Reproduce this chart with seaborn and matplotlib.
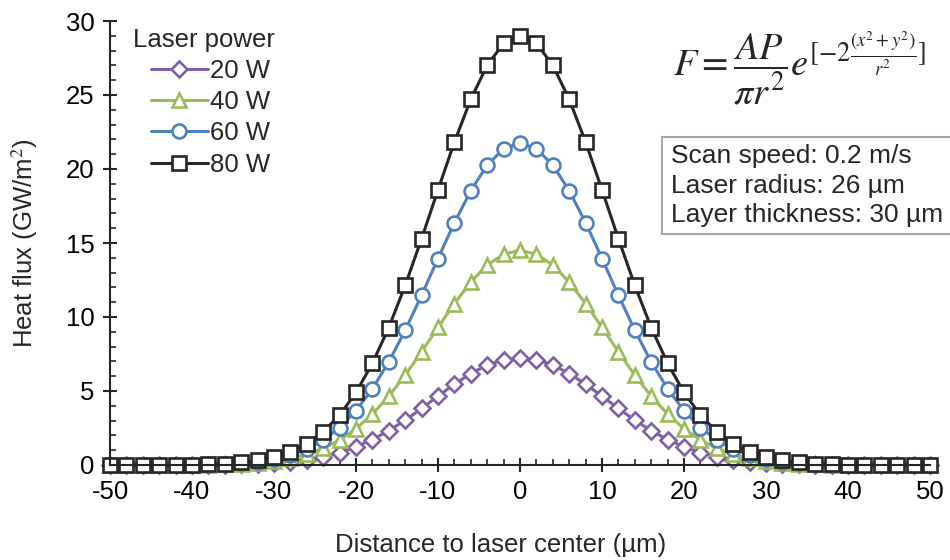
import matplotlib
matplotlib.use('Agg')
import matplotlib.pyplot as plt
import seaborn as sns
from matplotlib.lines import Line2D
from matplotlib.patches import Rectangle

# distance to laser center, um
distance = list(range(-50, 51, 2))

# heat flux, GW/m^2
flux_20w = [0.00, 0.00, 0.00, 0.00, 0.00, 0.00, 0.01, 0.02, 0.04, 0.08, 0.13, 0.22, 0.36,
            0.56, 0.84, 1.23, 1.72, 2.32, 3.03, 3.82, 4.65, 5.46, 6.18, 6.75, 7.12,
            7.25,
            7.12, 6.75, 6.18, 5.46, 4.65, 3.82, 3.03, 2.32, 1.72, 1.23, 0.84, 0.56, 0.36,
            0.22, 0.13, 0.08, 0.04, 0.02, 0.01, 0.00, 0.00, 0.00, 0.00, 0.00, 0.00]
flux_40w = [0.00, 0.00, 0.00, 0.00, 0.00, 0.01, 0.02, 0.05, 0.09, 0.15, 0.27, 0.45, 0.72,
            1.12, 1.69, 2.45, 3.44, 4.65, 6.07, 7.65, 9.30, 10.91, 12.36, 13.51, 14.25,
            14.50,
            14.25, 13.51, 12.36, 10.91, 9.30, 7.65, 6.07, 4.65, 3.44, 2.45, 1.69, 1.12, 0.72,
            0.45, 0.27, 0.15, 0.09, 0.05, 0.02, 0.01, 0.00, 0.00, 0.00, 0.00, 0.00]
flux_60w = [0.00, 0.00, 0.00, 0.00, 0.01, 0.02, 0.03, 0.07, 0.13, 0.23, 0.40, 0.67, 1.08,
            1.68, 2.53, 3.68, 5.15, 6.97, 9.10, 11.47, 13.95, 16.37, 18.53, 20.26, 21.37,
            21.75,
            21.37, 20.26, 18.53, 16.37, 13.95, 11.47, 9.10, 6.97, 5.15, 3.68, 2.53, 1.68, 1.08,
            0.67, 0.40, 0.23, 0.13, 0.07, 0.03, 0.02, 0.01, 0.00, 0.00, 0.00, 0.00]
flux_80w = [0.00, 0.00, 0.00, 0.00, 0.01, 0.02, 0.05, 0.09, 0.17, 0.31, 0.53, 0.89, 1.44,
            2.24, 3.37, 4.90, 6.87, 9.29, 12.14, 15.29, 18.59, 21.82, 24.71, 27.01, 28.49,
            29.00,
            28.49, 27.01, 24.71, 21.82, 18.59, 15.29, 12.14, 9.29, 6.87, 4.90, 3.37, 2.24, 1.44,
            0.89, 0.53, 0.31, 0.17, 0.09, 0.05, 0.02, 0.01, 0.00, 0.00, 0.00, 0.00]

labels = ['20 W', '40 W', '60 W', '80 W']
series = [flux_20w, flux_40w, flux_60w, flux_80w]
colors = ['#7f5fa6', '#9bbb59', '#4f81bd', '#262626']
markers = ['D', '^', 'o', 's']
msizes = [8.5, 10.5, 10, 10]

sns.set_style('ticks')
plt.rcParams['font.family'] = ['Liberation Sans', 'DejaVu Sans']
plt.rcParams['mathtext.fontset'] = 'stix'
plt.rcParams['axes.unicode_minus'] = False

FS = 18.5

fig = plt.figure(figsize=(9.5, 5.6), dpi=100)
ax = fig.add_axes([110 / 950, 1 - 465 / 560, 820 / 950, 444 / 560])

handles = []
for vals, lab, c, m, ms in zip(series, labels, colors, markers, msizes):
    sns.lineplot(x=distance, y=vals, ax=ax, color=c, linewidth=2.2,
                 marker=m, markersize=ms, markerfacecolor='white',
                 markeredgecolor=c, markeredgewidth=1.9, clip_on=False)
    handles.append(Line2D([], [], color=c, linewidth=2.2, marker=m, markersize=ms,
                          markerfacecolor='white', markeredgecolor=c,
                          markeredgewidth=1.9, label=lab))

ax.set_xlim(-50, 50)
ax.set_ylim(0, 30)
ax.set_xticks(range(-50, 51, 10))
ax.set_xticks(range(-50, 51, 2), minor=True)
ax.set_yticks(range(0, 31, 5))
ax.set_yticks(range(0, 31, 1), minor=True)
sns.despine(ax=ax)
for sp in ['left', 'bottom']:
    ax.spines[sp].set_color('#262626')
    ax.spines[sp].set_linewidth(1.5)
ax.tick_params(which='major', direction='inout', length=10, width=1.5,
               color='#262626', labelsize=FS, labelcolor='black')
ax.tick_params(axis='x', which='major', pad=6)
ax.tick_params(axis='y', which='major', pad=6)
ax.tick_params(which='minor', direction='in', length=4, width=1.2, color='#262626')

ax.set_xlabel('Distance to laser center (\u00b5m)', fontsize=FS, va='center')
ax.xaxis.set_label_coords(0.476, -80 / 444)
ax.set_ylabel('Heat flux (GW/m$^2$)', fontsize=FS, labelpad=19)

# legend with an outdented title
fig.text(133 / 950, 1 - 40 / 560, 'Laser power', fontsize=FS, va='center', ha='left')
ax.legend(handles=handles, loc='upper left', bbox_to_anchor=(151 / 950, 1 - 59 / 560),
          bbox_transform=fig.transFigure, frameon=False, fontsize=FS,
          handlelength=2.2, handletextpad=0.1, labelspacing=0.28, borderpad=0,
          borderaxespad=0)

# formula
fig.text(800 / 950, 1 - 68 / 560,
         r'$F=\dfrac{AP}{\pi r^2}e^{[-2\frac{(x^2+y^2)}{r^2}]}$',
         fontsize=27.5, ha='center', va='center')

# parameter box
fig.patches.append(Rectangle((662 / 950, 1 - 234 / 560), 300 / 950, 97 / 560,
                             transform=fig.transFigure, facecolor='white',
                             edgecolor='#a6a6a6', linewidth=1.5, zorder=5))
for i, line in enumerate(['Scan speed: 0.2 m/s', 'Laser radius: 26 \u00b5m',
                          'Layer thickness: 30 \u00b5m']):
    fig.text(671 / 950, 1 - (156 + 29.5 * i) / 560, line, fontsize=19,
             ha='left', va='center', zorder=6)

fig.savefig('out.png', dpi=100)
